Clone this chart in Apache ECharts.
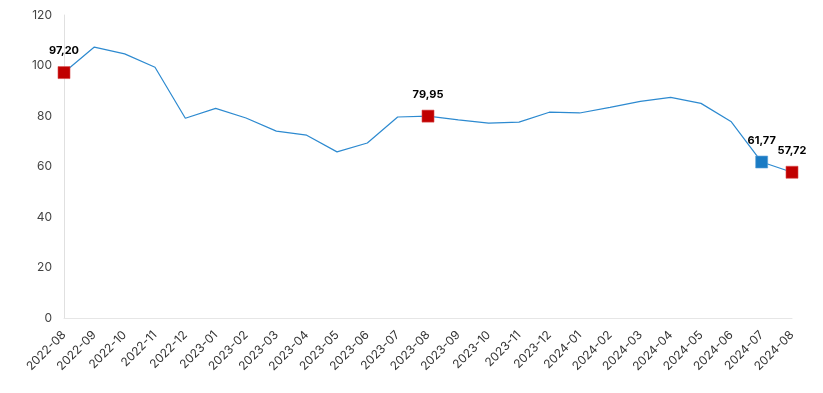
<!DOCTYPE html>
<html><head><meta charset="utf-8">
<script src="https://cdn.jsdelivr.net/npm/echarts@6/dist/echarts.min.js"></script>
<style>html,body{margin:0;padding:0;background:#fff}#c{width:823px;height:393px}</style>
</head><body><div id="c"></div>
<script>
const categories = ["2022-08","2022-09","2022-10","2022-11","2022-12","2023-01","2023-02","2023-03","2023-04","2023-05","2023-06","2023-07","2023-08","2023-09","2023-10","2023-11","2023-12","2024-01","2024-02","2024-03","2024-04","2024-05","2024-06","2024-07","2024-08"];
const values = [97.20,107.3,104.6,99.3,79.1,83.0,79.2,74.0,72.4,65.8,69.3,79.6,79.95,78.5,77.2,77.6,81.5,81.2,83.4,85.8,87.4,85.0,77.7,61.77,57.72];
const redMonths = ["2022-08","2023-08","2024-08"];
const blueMonths = ["2024-07"];
const yTicks = {min:0, max:120, interval:20};

const fmt = v => v.toFixed(2).replace('.', ',');
const pts = months => months.map(m => [m, values[categories.indexOf(m)]]);

const chart = echarts.init(document.getElementById('c'));
const labelCfg = {show:true, position:'top', distance:10, fontFamily:'Inter', fontWeight:'bold', fontSize:11, color:'#000', formatter:p=>fmt(p.value[1])};
chart.setOption({
  animation:false,
  grid:{left:64, right:31, top:15, bottom:75},
  xAxis:{type:'category', data:categories, boundaryGap:false,
    axisLine:{lineStyle:{color:'#e6e6e6'}}, axisTick:{show:false},
    axisLabel:{rotate:45, color:'#333', fontFamily:'Inter', fontSize:12, margin:15}},
  yAxis:{type:'value', min:yTicks.min, max:yTicks.max, interval:yTicks.interval,
    axisLine:{show:true, lineStyle:{color:'#e0e0e0'}}, axisTick:{show:false}, splitLine:{show:false},
    axisLabel:{color:'#444', fontFamily:'Inter', fontSize:12, margin:12}},
  series:[
    {type:'line', data:values, showSymbol:false, symbol:'none', lineStyle:{color:'#2d8ad0', width:1.2}, z:2},
    {type:'scatter', data:pts(redMonths), symbol:'rect', symbolSize:12, itemStyle:{color:'#c00000', opacity:1, borderColor:'#d84848', borderWidth:0.6}, label:labelCfg, z:3},
    {type:'scatter', data:pts(blueMonths), symbol:'rect', symbolSize:12, itemStyle:{color:'#1a7bc4', opacity:1, borderColor:'#5aa0d8', borderWidth:0.6}, label:labelCfg, z:3}
  ]
});
</script></body></html>
